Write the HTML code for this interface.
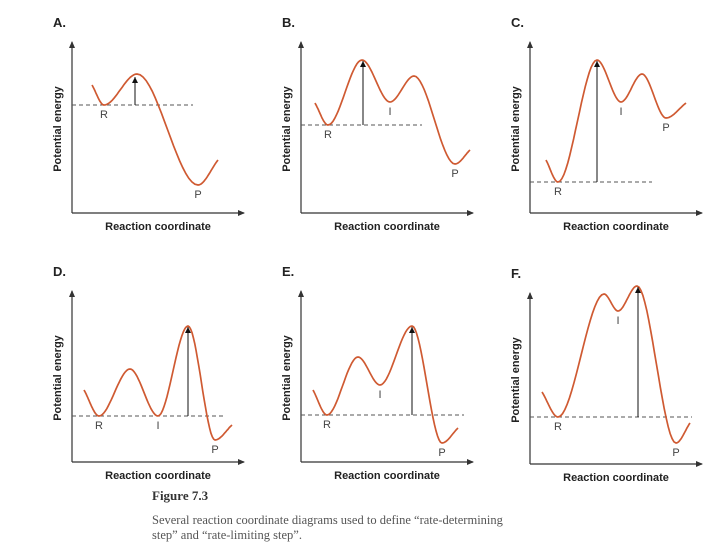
<!DOCTYPE html>
<html><head><meta charset="utf-8">
<style>
body{margin:0;background:#fff;}
svg{display:block;}
.ax{stroke:#333;stroke-width:1.2;fill:none}
.lab{font-family:"Liberation Sans",sans-serif;font-size:11px;font-weight:bold;fill:#222}
.pl{font-family:"Liberation Sans",sans-serif;font-size:13px;font-weight:bold;fill:#222}
.sl{font-family:"Liberation Sans",sans-serif;font-size:11px;fill:#444}
.cap{font-family:"Liberation Serif",serif;font-size:12.5px;fill:#555}
</style></head>
<body>
<svg id="fig" width="720" height="560" viewBox="0 0 720 560">
<defs><marker id="ah" markerWidth="8" markerHeight="8" refX="6" refY="4" orient="auto" markerUnits="userSpaceOnUse"><path d="M0,1 L7,4 L0,7 z" fill="#333"/></marker>
<marker id="ah2" markerWidth="8" markerHeight="8" refX="6" refY="3" orient="auto" markerUnits="userSpaceOnUse"><path d="M0,0 L6,3 L0,6 z" fill="#111"/></marker></defs>
<text class="cap" x="152" y="500" style="font-weight:bold;font-size:13px;fill:#333">Figure 7.3</text>
<text class="cap" x="152" y="524">Several reaction coordinate diagrams used to define “rate-determining</text>
<text class="cap" x="152" y="539">step” and “rate-limiting step”.</text>
</svg>
<script>
const panelNames=["A.","B.","C.","D.","E.","F."];
const xA=[20,32,65,126,146], eA=[128,108,139,28,53];
const xB=[14,27,61,89,113,154,169], eB=[110,88,153,111,137,49,63];
const xC=[16,28,67,91,112,136,156], eC=[53,31,153,111,139,95,110];
const xD=[12,27,58,86,116,143,160], eD=[72,46,93,46,136,22,37];
const xE=[12,26,57,79,111,141,157], eE=[72,47,105,77,136,19,34];
const xF=[12,28,74,88,107,146,160], eF=[72,47,170,153,178,21,41];
const baseE=[108,88,31,46,47,47];
const barrierX=[63,62,67,116,111,108];
const barrierTop=[137,153,153,136,136,178];
const dashLen=[121,121,122,153,163,162];
const stateLabels=[["R","P"],["R","I","P"],["R","I","P"],["R","I","P"],["R","I","P"],["R","I","P"]];
const stateIdx=[[1,3],[1,3,5],[1,3,5],[1,3,5],[1,3,5],[1,3,5]];
const XS=[xA,xB,xC,xD,xE,xF], ES=[eA,eB,eC,eD,eE,eF];
const origins=[[72,213],[301,213],[530,213],[72,462],[301,462],[530,464]];
const NS="http://www.w3.org/2000/svg";
const svg=document.getElementById('fig');
function mk(t,a){const e=document.createElementNS(NS,t);for(const k in a)e.setAttribute(k,a[k]);return e;}
function mono(xs,ys){const n=xs.length,d=[],m=[];for(let i=0;i<n-1;i++)d.push((ys[i+1]-ys[i])/(xs[i+1]-xs[i]));
 m[0]=d[0];m[n-1]=d[n-2];for(let i=1;i<n-1;i++){m[i]=(d[i-1]*d[i]<=0)?0:(d[i-1]+d[i])/2;}
 const pts=[];for(let i=0;i<n-1;i++){const h=xs[i+1]-xs[i];for(let k=0;k<=20;k++){const t=k/20,t2=t*t,t3=t2*t;
 const y=(2*t3-3*t2+1)*ys[i]+(t3-2*t2+t)*h*m[i]+(-2*t3+3*t2)*ys[i+1]+(t3-t2)*h*m[i+1];pts.push([xs[i]+t*h,y]);}}return pts;}
for(let p=0;p<6;p++){
 const [ox,oy]=origins[p];
 const sx=v=>ox+v, sy=v=>oy-v;
 const g=mk('g',{});
 
 
 svg.appendChild(g);
 const ya=mk('line',{x1:ox,y1:oy,x2:ox,y2:oy-171,class:'ax','marker-end':'url(#ah)'});
 g.appendChild(ya);
 const xa=mk('line',{x1:ox,y1:oy,x2:ox+172,y2:oy,class:'ax','marker-end':'url(#ah)'});
 g.appendChild(xa);
 const t=mk('text',{x:ox-19,y:oy-186,class:'pl'});t.textContent=panelNames[p];
 g.appendChild(t);
 const xt=mk('text',{x:ox+86,y:oy+17,class:'lab','text-anchor':'middle'});xt.textContent='Reaction coordinate';
 g.appendChild(xt);
 const yt=mk('text',{x:0,y:0,class:'lab','text-anchor':'middle',transform:`translate(${ox-11},${oy-84}) rotate(-90)`});yt.textContent='Potential energy';
 g.appendChild(yt);
 const dl=mk('line',{x1:ox,y1:sy(baseE[p]),x2:ox+dashLen[p],y2:sy(baseE[p]),stroke:'#555','stroke-width':1,'stroke-dasharray':'4,3'});
 g.appendChild(dl);
 const pts=mono(XS[p],ES[p]);
 const c=mk('path',{d:'M'+pts.map(q=>sx(q[0]).toFixed(1)+','+sy(q[1]).toFixed(1)).join(' L'),fill:'none',stroke:'#cf5a32','stroke-width':1.7});
 g.appendChild(c);
 const ar=mk('line',{x1:sx(barrierX[p]),y1:sy(baseE[p]),x2:sx(barrierX[p]),y2:sy(barrierTop[p])+1,stroke:'#111','stroke-width':1,'marker-end':'url(#ah2)'});
 g.appendChild(ar);
 stateLabels[p].forEach((L,i)=>{const k=stateIdx[p][i];
  const s=mk('text',{x:sx(XS[p][k]),y:sy(ES[p][k])+13,class:'sl','text-anchor':'middle'});s.textContent=L;
  g.appendChild(s);});
}
</script>
</body></html>
